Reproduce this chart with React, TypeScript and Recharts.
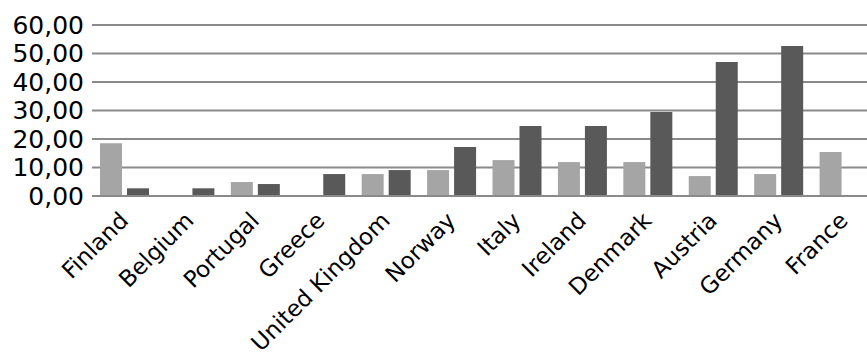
import React from 'react'
import { BarChart, Bar, XAxis, YAxis, CartesianGrid } from 'recharts'

// Countries along the x axis
const countries = [
  'Finland',
  'Belgium',
  'Portugal',
  'Greece',
  'United Kingdom',
  'Norway',
  'Italy',
  'Ireland',
  'Denmark',
  'Austria',
  'Germany',
  'France',
]

// Light series (first bar of each pair)
const seriesA: (number | null)[] = [18.5, null, 4.9, null, 7.7, 9.1, 12.6, 11.9, 11.9, 7.0, 7.7, 15.4]
// Dark series (second bar of each pair)
const seriesB: (number | null)[] = [2.7, 2.7, 4.2, 7.7, 9.1, 17.2, 24.6, 24.6, 29.5, 47.0, 52.6, null]

const yTicks = [0, 10, 20, 30, 40, 50, 60]

const data = countries.map((name, i) => ({ name, a: seriesA[i], b: seriesB[i] }))

const fmt = (v: number) => v.toFixed(2).replace('.', ',')

// rotated country names, right end sits under the category centre
const CountryTick = ({ x, y, payload }: any) => {
  const ax = x + 5
  const ay = y + 18
  return (
    <text
      x={ax}
      y={ay}
      textAnchor='end'
      transform={`rotate(-45 ${ax} ${ay})`}
      fontFamily='DejaVu Sans'
      fontSize={23}
      fill='#000'
    >
      {payload.value}
    </text>
  )
}

const App: React.FC = () => {
  return (
    <div style={{ position: 'absolute', left: 0, top: 0, width: 867, height: 356, overflow: 'hidden', background: '#fff' }}>
      <BarChart
        width={877}
        height={356}
        data={data}
        margin={{ top: 25, right: 0, left: 0, bottom: 0 }}
        barCategoryGap={8}
        barGap={5}
      >
        <CartesianGrid vertical={false} stroke='#8a8a8a' strokeWidth={2} />
        <XAxis
          dataKey='name'
          interval={0}
          height={160}
          tickLine={false}
          axisLine={{ stroke: '#8a8a8a', strokeWidth: 2 }}
          tick={<CountryTick />}
        />
        <YAxis
          width={92}
          domain={[0, 60]}
          ticks={yTicks}
          interval={0}
          tickFormatter={fmt}
          axisLine={false}
          tickLine={false}
          tick={{ fontFamily: 'DejaVu Sans', fontSize: 25, fill: '#000' }}
        />
        <Bar dataKey='a' fill='#a5a5a5' isAnimationActive={false} />
        <Bar dataKey='b' fill='#595959' isAnimationActive={false} />
      </BarChart>
    </div>
  )
}

export default App
